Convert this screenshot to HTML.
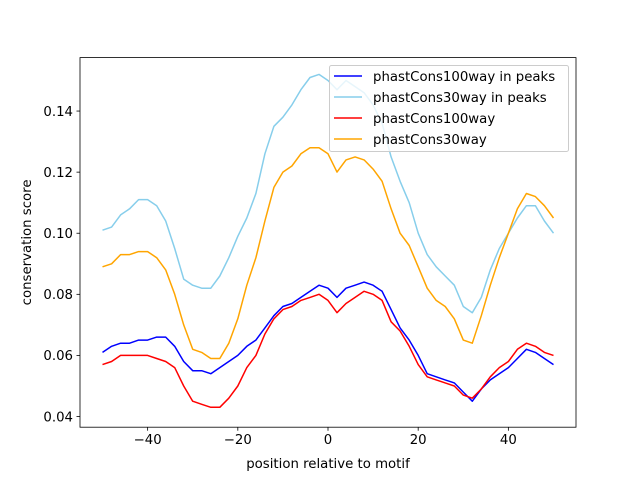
<!DOCTYPE html>
<html><head><meta charset="utf-8"><style>
body{margin:0;background:#fff;}
svg text{font-family:"DejaVu Sans","Liberation Sans",sans-serif;fill:#000;}
</style></head><body>
<svg id="chart" width="640" height="480" viewBox="0 0 640 480" xmlns="http://www.w3.org/2000/svg">
<rect width="640" height="480" fill="#fff"/>
<g id="plot"></g>
<g id="axes"></g>
<g id="legend"></g>
</svg>
<script>
const xs = [-50,-48,-46,-44,-42,-40,-38,-36,-34,-32,-30,-28,-26,-24,-22,-20,-18,-16,-14,-12,-10,-8,-6,-4,-2,0,2,4,6,8,10,12,14,16,18,20,22,24,26,28,30,32,34,36,38,40,42,44,46,48,50];
const light = [0.101,0.102,0.106,0.108,0.111,0.111,0.109,0.104,0.095,0.085,0.083,0.082,0.082,0.086,0.092,0.099,0.105,0.113,0.126,0.135,0.138,0.142,0.147,0.151,0.152,0.150,0.147,0.150,0.148,0.146,0.142,0.136,0.125,0.117,0.110,0.100,0.093,0.089,0.086,0.083,0.076,0.074,0.079,0.088,0.095,0.100,0.105,0.109,0.109,0.104,0.100];
const orange = [0.089,0.090,0.093,0.093,0.094,0.094,0.092,0.088,0.080,0.070,0.062,0.061,0.059,0.059,0.064,0.072,0.083,0.092,0.104,0.115,0.120,0.122,0.126,0.128,0.128,0.126,0.120,0.124,0.125,0.124,0.121,0.117,0.108,0.100,0.096,0.089,0.082,0.078,0.076,0.072,0.065,0.064,0.073,0.083,0.092,0.100,0.108,0.113,0.112,0.109,0.105];
const blue = [0.061,0.063,0.064,0.064,0.065,0.065,0.066,0.066,0.063,0.058,0.055,0.055,0.054,0.056,0.058,0.060,0.063,0.065,0.069,0.073,0.076,0.077,0.079,0.081,0.083,0.082,0.079,0.082,0.083,0.084,0.083,0.081,0.075,0.069,0.065,0.060,0.054,0.053,0.052,0.051,0.048,0.045,0.049,0.052,0.054,0.056,0.059,0.062,0.061,0.059,0.057];
const red = [0.057,0.058,0.060,0.060,0.060,0.060,0.059,0.058,0.056,0.050,0.045,0.044,0.043,0.043,0.046,0.050,0.056,0.060,0.067,0.072,0.075,0.076,0.078,0.079,0.080,0.078,0.074,0.077,0.079,0.081,0.080,0.078,0.071,0.068,0.063,0.057,0.053,0.052,0.051,0.050,0.047,0.046,0.049,0.053,0.056,0.058,0.062,0.064,0.063,0.061,0.060];
const xTicks = [-40,-20,0,20,40];
const yTicks = [0.04,0.06,0.08,0.10,0.12,0.14];
const yTickLabels = ["0.04","0.06","0.08","0.10","0.12","0.14"];
const seriesNames = ["phastCons100way in peaks","phastCons30way in peaks","phastCons100way","phastCons30way"];

const L=80,R=576,T=57.6,B=427.2;
const X0=-55,X1=55,Y0=0.0365,Y1=0.1575;
const sx=v=>L+(v-X0)/(X1-X0)*(R-L);
const sy=v=>B-(v-Y0)/(Y1-Y0)*(B-T);
const NS="http://www.w3.org/2000/svg";
function mk(tag,attrs,parent){const e=document.createElementNS(NS,tag);for(const k in attrs)e.setAttribute(k,attrs[k]);parent.appendChild(e);return e;}
const plot=document.getElementById('plot'),axes=document.getElementById('axes'),leg=document.getElementById('legend');
const series=[[blue,"#0000ff","line-phastcons100way-in-peaks"],[light,"#87ceeb","line-phastcons30way-in-peaks"],[red,"#ff0000","line-phastcons100way"],[orange,"#ffa500","line-phastcons30way"]];
series.forEach(s=>{
  const p=mk('polyline',{points:xs.map((x,i)=>sx(x).toFixed(1)+','+sy(s[0][i]).toFixed(1)).join(' '),fill:'none',stroke:s[1],'stroke-width':1.5,'stroke-linejoin':'round'},plot);
  
  
});
const frame=mk('rect',{x:L,y:T,width:R-L,height:B-T,fill:'none',stroke:'#000','stroke-width':0.8},axes);


xTicks.forEach(v=>{
  mk('line',{x1:sx(v),x2:sx(v),y1:B,y2:B+3.5,stroke:'#000','stroke-width':0.8},axes);
  const t=mk('text',{x:sx(v),y:B+17,'text-anchor':'middle','font-size':'13.3px'},axes);
  t.textContent=v<0?'\u2212'+(-v):String(v);
  
  
});
yTicks.forEach((v,i)=>{
  mk('line',{x1:L-3.5,x2:L,y1:sy(v),y2:sy(v),stroke:'#000','stroke-width':0.8},axes);
  const t=mk('text',{x:L-7,y:sy(v)+4.8,'text-anchor':'end','font-size':'13.3px'},axes);
  t.textContent=yTickLabels[i];
  
  
});
const xl=mk('text',{x:(L+R)/2,y:468,'text-anchor':'middle','font-size':'13.3px'},axes);
xl.textContent='position relative to motif';


const yl=mk('text',{x:31,y:(T+B)/2,'text-anchor':'middle','font-size':'13.3px',transform:'rotate(-90 31 '+((T+B)/2)+')'},axes);
yl.textContent='conservation score';


const box=mk('rect',{x:329.5,y:65.5,width:239,height:86,rx:2,fill:'#fff','fill-opacity':0.8,stroke:'#ccc','stroke-width':1},leg);


seriesNames.forEach((n,i)=>{
  const y=76+i*21;
  const g=mk('g',{},leg);
  
  
  mk('line',{x1:334,x2:362,y1:y,y2:y,stroke:series[i][1],'stroke-width':1.5},g);
  const t=mk('text',{x:373,y:y+5,'font-size':'13.3px'},g);
  t.textContent=n;
});
</script>
</body></html>
